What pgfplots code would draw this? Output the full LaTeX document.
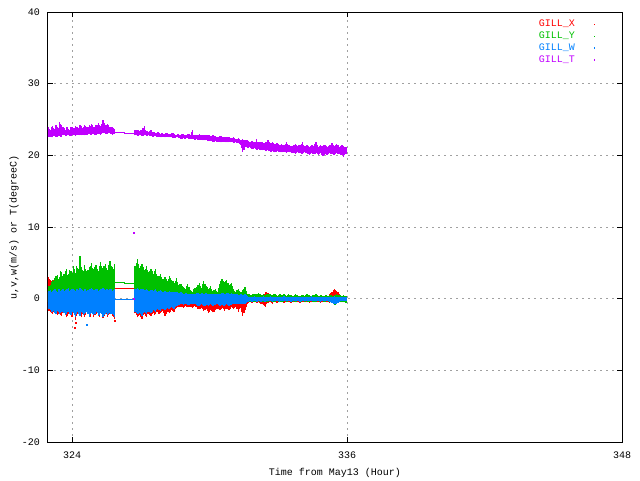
\documentclass[border=0pt]{standalone}
\usepackage{pgfplots}
\pgfplotsset{compat=1.18}
\usepackage{pgfplotstable}
\usepackage{fontspec}
\setmainfont{Liberation Mono}
\definecolor{gx}{HTML}{FF0000}
\definecolor{gy}{HTML}{00C000}
\definecolor{gw}{HTML}{0080FF}
\definecolor{gt}{HTML}{C000FF}
\definecolor{gridc}{HTML}{A0A0A0}
\pgfplotsset{ebar/.style={draw=none, mark=none, forget plot, error bars/.cd, y dir=plus, y explicit,
  error mark=none, error bar style={draw=#1, line width=1.3pt}}}
\pgfplotstableread{
x xlo xhi ylo yhi wlo whi tlo thi
322.95 -1.6 3.0 -0.5 1.4 -1.4 1.0 22.5 23.9
323.05 -1.9 2.6 -0.6 1.9 -1.6 1.2 22.6 23.6
323.15 -2.1 2.2 -0.6 2.6 -1.8 1.1 22.5 24.1
323.25 -1.8 2.9 -0.7 2.9 -2.0 1.3 22.7 23.7
323.35 -2.3 2.4 -0.6 3.3 -1.7 1.0 22.6 24.0
323.45 -2.0 2.6 -0.8 3.0 -2.2 1.4 22.7 24.7
323.55 -2.4 2.8 -0.7 3.7 -1.9 1.2 22.6 24.2
323.65 -1.9 2.5 -0.6 3.4 -2.0 1.1 22.8 23.8
323.75 -2.6 3.2 -0.8 4.2 -2.1 1.3 22.7 24.0
323.85 -2.1 2.7 -0.7 3.5 -1.8 1.5 22.8 23.7
323.95 -2.3 2.9 -0.6 3.9 -2.3 1.2 22.7 23.9
324.05 -2.0 3.1 -0.8 4.5 -2.0 1.4 22.8 23.8
324.15 -3.0 2.6 -0.7 3.6 -2.6 1.1 22.7 24.1
324.25 -2.2 3.0 -0.9 4.3 -1.9 1.3 22.9 23.9
324.35 -2.4 3.4 -0.8 5.9 -2.4 1.5 22.8 24.2
324.45 -2.1 2.8 -0.7 4.0 -2.0 1.2 22.9 23.8
324.55 -2.5 3.7 -0.8 4.7 -2.2 1.4 22.8 24.3
324.65 -1.9 2.9 -0.6 3.8 -1.8 1.1 22.9 24.0
324.75 -2.3 3.3 -0.9 4.4 -2.5 1.3 23.0 24.2
324.85 -2.0 4.4 -0.8 5.0 -2.0 1.5 22.9 24.4
324.95 -2.6 3.0 -0.7 4.1 -2.3 1.2 23.0 23.9
325.05 -2.1 3.6 -0.8 4.7 -1.9 1.4 22.9 24.3
325.15 -2.4 2.9 -0.6 3.9 -2.4 1.1 23.0 24.5
325.25 -2.0 4.2 -0.9 5.1 -2.0 1.3 22.9 24.1
325.35 -2.7 3.2 -0.7 4.3 -2.6 1.5 23.1 24.9
325.45 -2.2 3.9 -0.8 4.8 -2.1 1.2 23.0 24.2
325.55 -2.5 3.0 -0.7 4.0 -2.3 1.4 23.0 24.4
325.65 -2.1 4.3 -0.8 5.3 -2.0 1.3 23.1 24.0
325.75 -2.4 3.4 -0.7 4.4 -2.2 1.1 22.9 23.9
325.85 -2.9 3.8 -0.8 4.9 -2.5 1.4 23.0 23.7
326.75 -2.0 3.5 -0.7 4.6 -1.8 1.3 22.8 23.5
326.85 -2.6 4.4 -0.8 5.5 -2.2 1.5 22.7 23.6
326.95 -2.3 3.2 -0.7 4.3 -2.0 1.2 22.8 23.4
327.05 -2.8 3.8 -0.8 4.9 -2.4 1.4 22.7 23.6
327.15 -2.2 3.0 -0.6 4.0 -1.9 1.2 22.8 24.1
327.25 -2.5 3.4 -0.7 4.5 -2.1 1.3 22.7 23.4
327.35 -2.1 2.7 -0.6 3.7 -1.8 1.1 22.8 23.3
327.45 -2.4 3.0 -0.7 4.1 -2.0 1.2 22.7 23.5
327.55 -2.0 2.5 -0.6 3.5 -1.6 1.1 22.6 23.2
327.65 -2.2 3.2 -0.7 4.2 -1.8 1.3 22.7 23.1
327.75 -1.8 2.2 -0.6 3.1 -1.5 1.0 22.6 23.2
327.85 -2.0 2.5 -0.5 3.4 -1.7 1.2 22.5 23.0
327.95 -1.7 1.9 -0.5 2.7 -1.4 1.0 22.6 23.1
328.05 -2.4 2.1 -0.6 3.0 -1.6 1.1 22.5 23.0
328.15 -1.8 1.7 -0.5 2.4 -1.3 0.9 22.6 23.1
328.25 -2.0 2.3 -0.5 3.2 -1.5 1.1 22.5 23.0
328.35 -1.6 1.8 -0.4 2.6 -1.2 0.9 22.5 23.1
328.45 -1.9 1.5 -0.5 2.2 -1.4 1.0 22.4 23.0
328.55 -1.3 2.0 -0.4 2.9 -1.0 0.9 22.5 22.9
328.65 -1.2 1.3 -0.4 1.9 -0.9 0.8 22.4 23.0
328.75 -1.1 1.4 -0.3 2.1 -0.8 0.9 22.3 22.9
328.85 -1.3 1.1 -0.4 1.6 -0.9 0.7 22.4 23.0
328.95 -1.0 1.0 -0.3 1.4 -0.7 0.8 22.3 22.9
329.05 -1.2 1.4 -0.4 2.0 -0.9 0.7 22.4 23.0
329.15 -1.1 0.9 -0.3 1.2 -0.8 0.7 22.3 22.9
329.25 -1.3 0.8 -0.3 1.0 -0.8 0.6 22.3 23.5
329.35 -1.0 1.1 -0.4 1.5 -0.7 0.7 22.2 22.9
329.45 -1.2 1.0 -0.4 1.6 -0.9 0.8 22.3 22.9
329.55 -1.5 1.5 -0.5 2.2 -1.0 0.7 22.2 23.0
329.65 -1.3 1.0 -0.4 1.5 -0.8 0.8 22.2 22.8
329.75 -1.7 1.7 -0.5 2.4 -1.0 0.7 22.1 22.9
329.85 -1.4 1.2 -0.4 1.8 -0.9 0.8 22.1 22.8
329.95 -2.0 1.0 -0.5 1.4 -1.0 0.6 22.0 22.9
330.05 -1.6 1.1 -0.4 1.7 -0.8 0.7 22.0 22.7
330.15 -1.9 0.8 -0.4 1.1 -1.0 0.6 21.9 22.8
330.25 -1.6 0.9 -0.3 1.3 -0.9 0.7 22.0 22.7
330.35 -1.4 0.8 -0.4 1.0 -0.8 0.6 21.9 22.6
330.45 -1.6 1.4 -0.5 2.0 -1.0 0.7 21.9 22.7
330.55 -1.3 2.0 -0.4 2.8 -0.9 0.8 21.8 22.6
330.65 -1.7 1.6 -0.5 2.3 -1.0 0.7 21.9 22.5
330.75 -1.4 1.9 -0.4 2.6 -0.8 0.8 21.8 22.6
330.85 -1.6 1.3 -0.5 1.9 -1.0 0.7 21.8 22.5
330.95 -1.2 1.5 -0.4 2.2 -0.9 0.8 21.9 22.4
331.05 -1.5 0.9 -0.4 1.3 -0.8 0.6 21.7 22.5
331.15 -1.1 0.7 -0.3 1.0 -0.7 0.6 21.8 22.3
331.25 -1.8 1.0 -0.4 1.4 -0.8 0.5 21.7 22.4
331.35 -1.3 0.6 -0.3 0.9 -0.7 0.6 21.5 22.2
331.45 -2.4 0.8 -0.4 1.2 -0.8 0.5 20.5 22.3
331.55 -1.6 1.1 -0.4 1.6 -0.7 0.6 21.2 22.1
331.65 -0.8 0.5 -0.3 0.7 -0.5 0.4 21.0 22.2
331.75 -0.5 0.4 -0.4 0.6 -0.3 0.3 21.1 21.9
331.85 -0.6 0.3 -0.3 0.5 -0.4 0.3 20.9 22.0
331.95 -0.4 0.5 -0.5 0.7 -0.3 0.4 21.0 21.8
332.05 -0.6 0.4 -0.4 0.6 -0.4 0.3 20.8 22.3
332.15 -0.5 0.6 -0.3 0.8 -0.3 0.3 20.9 21.8
332.25 -0.7 0.4 -0.5 0.5 -0.4 0.3 20.7 21.9
332.35 -0.9 0.5 -0.4 0.6 -0.3 0.4 20.8 21.7
332.45 -1.1 0.9 -0.3 0.5 -0.4 0.3 20.6 21.8
332.55 -0.6 0.8 -0.4 0.7 -0.3 0.3 20.7 22.1
332.65 -0.5 0.4 -0.3 0.6 -0.3 0.4 20.5 21.7
332.75 -0.7 0.5 -0.5 0.5 -0.4 0.3 20.6 21.8
332.85 -0.4 0.3 -0.4 0.6 -0.3 0.3 20.4 21.6
332.95 -0.6 0.4 -0.3 0.4 -0.3 0.3 20.6 21.7
333.05 -0.5 0.5 -0.4 0.7 -0.4 0.3 20.5 21.5
333.15 -0.4 0.3 -0.5 0.5 -0.3 0.3 20.4 21.6
333.25 -0.6 0.4 -0.3 0.6 -0.3 0.4 20.5 21.4
333.35 -0.5 0.3 -0.4 0.4 -0.3 0.3 20.3 21.9
333.45 -0.4 0.5 -0.3 0.6 -0.3 0.3 20.5 21.5
333.55 -0.6 0.3 -0.4 0.5 -0.4 0.3 20.4 21.3
333.65 -0.5 0.4 -0.3 0.4 -0.3 0.3 20.3 21.4
333.75 -0.4 0.3 -0.5 0.6 -0.3 0.3 20.2 21.6
333.85 -0.5 0.4 -0.3 0.5 -0.3 0.3 20.4 21.3
333.95 -0.6 0.3 -0.4 0.4 -0.4 0.3 20.3 21.5
334.05 -0.4 0.5 -0.3 0.5 -0.3 0.3 20.2 21.8
334.15 -0.5 0.3 -0.4 0.4 -0.3 0.3 20.4 21.3
334.25 -0.4 0.4 -0.3 0.6 -0.3 0.3 20.3 21.4
334.35 -0.6 0.3 -0.4 0.5 -0.3 0.3 20.1 21.2
334.45 -0.5 0.4 -0.3 0.4 -0.3 0.4 20.3 21.5
334.55 -0.4 0.3 -0.5 0.5 -0.3 0.3 20.2 21.3
334.65 -0.5 0.4 -0.4 0.6 -0.3 0.3 20.3 21.9
334.75 -0.4 0.3 -0.3 0.4 -0.3 0.3 20.1 21.2
334.85 -0.6 0.4 -0.4 0.5 -0.4 0.3 20.3 21.4
334.95 -0.5 0.3 -0.3 0.4 -0.3 0.3 19.9 21.3
335.05 -0.4 0.4 -0.4 0.5 -0.3 0.3 20.2 21.5
335.15 -0.5 0.3 -0.3 0.4 -0.3 0.3 20.1 21.2
335.25 -0.6 0.6 -0.4 0.5 -0.4 0.3 20.3 21.4
335.35 -0.5 1.0 -0.6 0.4 -0.6 0.3 20.2 21.7
335.45 -0.4 1.3 -0.9 0.5 -0.8 0.4 20.1 21.3
335.55 -0.5 1.1 -0.8 0.6 -0.7 0.3 20.3 21.6
335.65 -0.4 0.6 -0.5 0.5 -0.4 0.3 20.2 21.2
335.75 -0.5 0.4 -0.4 0.4 -0.3 0.3 20.1 21.5
335.85 -0.4 0.5 -0.5 0.5 -0.3 0.3 19.8 21.3
335.95 -0.5 0.3 -0.6 0.4 -0.3 0.3 20.2 21.1
}\data
\pgfplotstableread{
x xlo xhi ylo yhi wlo whi tlo thi
323.00 -1.7 2.8 -0.6 1.7 -1.5 1.1 22.6 23.7
323.10 -2.0 2.4 -0.5 2.3 -1.9 1.0 22.5 23.9
323.20 -1.9 2.6 -0.7 2.5 -1.7 1.2 22.7 23.8
323.30 -2.2 2.7 -0.6 3.1 -2.1 1.1 22.6 24.3
323.40 -2.1 2.3 -0.7 2.8 -1.8 1.3 22.7 23.8
323.50 -2.3 2.9 -0.8 3.9 -2.0 1.1 22.6 24.4
323.60 -2.0 2.6 -0.6 3.1 -1.8 1.3 22.8 23.9
323.70 -2.2 2.9 -0.7 3.8 -2.3 1.2 22.7 23.6
323.80 -2.4 2.5 -0.6 3.3 -1.9 1.3 22.8 23.9
323.90 -2.0 3.0 -0.7 4.0 -2.2 1.1 22.7 23.6
324.00 -2.5 2.7 -0.8 3.6 -1.9 1.3 22.8 24.0
324.10 -2.2 2.8 -0.7 4.1 -2.3 1.2 22.8 23.8
324.20 -2.4 3.3 -0.8 4.6 -2.1 1.4 22.8 24.0
324.30 -2.1 2.9 -0.7 4.1 -2.2 1.2 22.9 23.8
324.40 -2.6 3.1 -0.8 4.4 -1.9 1.3 22.8 24.1
324.50 -2.0 2.9 -0.7 3.9 -2.3 1.1 22.9 23.9
324.60 -2.3 3.2 -0.8 4.2 -2.0 1.3 22.9 24.1
324.70 -2.1 3.0 -0.7 4.0 -2.1 1.2 23.0 23.9
324.80 -2.5 3.6 -0.8 4.6 -2.2 1.4 22.9 24.1
324.90 -2.2 3.3 -0.7 4.3 -2.1 1.3 23.0 24.2
325.00 -2.3 3.4 -0.8 4.4 -2.2 1.2 22.9 24.0
325.10 -2.0 3.2 -0.7 4.2 -2.0 1.3 23.0 24.2
325.20 -2.5 3.5 -0.8 4.5 -2.3 1.2 23.0 24.3
325.30 -2.1 3.4 -0.7 4.6 -2.1 1.4 23.0 24.4
325.40 -2.4 3.6 -0.8 4.5 -2.3 1.3 23.1 24.5
325.50 -2.2 3.3 -0.7 4.3 -2.0 1.3 23.0 24.3
325.60 -2.3 3.7 -0.8 4.7 -2.2 1.2 23.1 24.2
325.70 -2.2 3.5 -0.7 4.6 -2.1 1.3 23.0 23.9
325.80 -2.5 3.2 -0.8 4.2 -2.3 1.2 23.0 23.8
326.80 -2.3 3.9 -0.8 5.0 -2.0 1.4 22.8 23.6
326.90 -2.4 3.6 -0.7 4.8 -2.1 1.3 22.7 23.5
327.00 -2.5 3.4 -0.8 4.5 -2.2 1.3 22.8 23.5
327.10 -2.3 3.5 -0.7 4.4 -2.0 1.3 22.7 23.8
327.20 -2.4 3.1 -0.7 4.2 -2.0 1.2 22.8 23.6
327.30 -2.2 3.0 -0.6 4.0 -1.9 1.2 22.7 23.4
327.40 -2.3 2.8 -0.7 3.8 -1.9 1.1 22.7 23.4
327.50 -2.1 2.7 -0.6 3.8 -1.8 1.2 22.6 23.3
327.60 -2.3 2.8 -0.7 3.9 -1.7 1.2 22.7 23.2
327.70 -1.9 2.6 -0.6 3.5 -1.6 1.1 22.6 23.1
327.80 -2.1 2.3 -0.5 3.2 -1.6 1.1 22.6 23.1
327.90 -1.8 2.2 -0.5 3.0 -1.5 1.1 22.5 23.1
328.00 -2.0 2.0 -0.6 2.8 -1.5 1.0 22.6 23.0
328.10 -2.1 1.9 -0.5 2.7 -1.4 1.0 22.5 23.1
328.20 -1.9 2.1 -0.5 2.8 -1.4 1.0 22.5 23.0
328.30 -1.8 2.0 -0.4 2.9 -1.3 1.0 22.5 23.0
328.40 -1.7 1.7 -0.5 2.4 -1.3 0.9 22.4 23.1
328.50 -1.5 1.8 -0.4 2.5 -1.2 0.9 22.4 22.9
328.60 -1.2 1.6 -0.4 2.3 -1.0 0.9 22.5 23.0
328.70 -1.2 1.4 -0.3 2.0 -0.9 0.8 22.4 22.9
328.80 -1.2 1.2 -0.4 1.8 -0.8 0.8 22.3 23.0
328.90 -1.1 1.1 -0.3 1.5 -0.8 0.7 22.3 22.9
329.00 -1.1 1.2 -0.4 1.7 -0.8 0.8 22.4 22.9
329.10 -1.2 1.1 -0.3 1.6 -0.9 0.7 22.3 23.0
329.20 -1.2 0.9 -0.3 1.1 -0.8 0.6 22.3 23.2
329.30 -1.1 1.0 -0.4 1.3 -0.7 0.7 22.3 22.9
329.40 -1.1 1.0 -0.4 1.5 -0.8 0.7 22.2 22.9
329.50 -1.4 1.3 -0.5 1.9 -1.0 0.8 22.2 22.9
329.60 -1.4 1.2 -0.4 1.8 -0.9 0.7 22.2 22.9
329.70 -1.5 1.4 -0.5 2.0 -0.9 0.8 22.1 22.8
329.80 -1.6 1.4 -0.4 2.1 -1.0 0.7 22.1 22.9
329.90 -1.7 1.1 -0.5 1.6 -0.9 0.7 22.0 22.8
330.00 -1.8 1.0 -0.4 1.5 -0.9 0.7 22.0 22.8
330.10 -1.7 0.9 -0.4 1.4 -0.9 0.6 22.0 22.7
330.20 -1.8 0.9 -0.4 1.2 -0.9 0.6 21.9 22.7
330.30 -1.5 0.8 -0.3 1.1 -0.8 0.7 21.9 22.6
330.40 -1.5 1.1 -0.4 1.5 -0.9 0.6 21.9 22.6
330.50 -1.4 1.7 -0.5 2.4 -0.9 0.7 21.8 22.7
330.60 -1.5 1.8 -0.4 2.5 -1.0 0.8 21.9 22.5
330.70 -1.5 1.7 -0.5 2.4 -0.9 0.7 21.8 22.6
330.80 -1.5 1.6 -0.4 2.2 -0.9 0.8 21.8 22.5
330.90 -1.4 1.4 -0.5 2.0 -0.9 0.7 21.8 22.4
331.00 -1.3 1.2 -0.4 1.7 -0.8 0.7 21.8 22.4
331.10 -1.3 0.8 -0.3 1.1 -0.7 0.6 21.7 22.4
331.20 -1.4 0.9 -0.4 1.2 -0.8 0.6 21.7 22.3
331.30 -1.5 0.8 -0.3 1.1 -0.7 0.5 21.6 22.3
331.40 -1.9 0.7 -0.4 1.0 -0.8 0.6 21.0 22.2
331.50 -2.0 1.0 -0.4 1.4 -0.7 0.5 20.8 22.2
331.60 -1.2 0.8 -0.3 1.1 -0.6 0.5 21.1 22.1
331.70 -0.6 0.4 -0.3 0.6 -0.4 0.3 21.0 22.0
331.80 -0.5 0.4 -0.4 0.5 -0.3 0.3 21.0 21.9
331.90 -0.5 0.4 -0.4 0.6 -0.3 0.3 20.9 21.9
332.00 -0.5 0.4 -0.4 0.6 -0.3 0.3 20.9 21.9
332.10 -0.6 0.5 -0.3 0.7 -0.4 0.3 20.8 21.9
332.20 -0.6 0.5 -0.4 0.6 -0.3 0.3 20.8 21.8
332.30 -0.8 0.4 -0.4 0.5 -0.3 0.3 20.7 21.8
332.40 -1.0 0.7 -0.3 0.5 -0.4 0.3 20.7 21.7
332.50 -0.8 0.9 -0.4 0.6 -0.3 0.3 20.6 21.9
332.60 -0.5 0.6 -0.3 0.7 -0.3 0.3 20.6 21.8
332.70 -0.6 0.4 -0.4 0.5 -0.3 0.3 20.5 21.7
332.80 -0.5 0.4 -0.4 0.6 -0.3 0.3 20.5 21.7
332.90 -0.5 0.3 -0.3 0.5 -0.3 0.3 20.5 21.6
333.00 -0.5 0.4 -0.4 0.5 -0.3 0.3 20.5 21.6
333.10 -0.4 0.4 -0.4 0.6 -0.3 0.3 20.4 21.5
333.20 -0.5 0.3 -0.4 0.5 -0.3 0.3 20.4 21.5
333.30 -0.5 0.4 -0.3 0.5 -0.3 0.3 20.4 21.6
333.40 -0.4 0.4 -0.4 0.5 -0.3 0.3 20.4 21.6
333.50 -0.5 0.4 -0.3 0.5 -0.3 0.3 20.4 21.4
333.60 -0.5 0.3 -0.4 0.4 -0.3 0.3 20.3 21.3
333.70 -0.4 0.3 -0.4 0.5 -0.3 0.3 20.3 21.5
333.80 -0.5 0.4 -0.4 0.5 -0.3 0.3 20.3 21.4
333.90 -0.5 0.3 -0.3 0.4 -0.3 0.3 20.3 21.4
334.00 -0.5 0.4 -0.4 0.5 -0.3 0.3 20.2 21.6
334.10 -0.4 0.4 -0.3 0.5 -0.3 0.3 20.3 21.5
334.20 -0.5 0.3 -0.4 0.5 -0.3 0.3 20.3 21.3
334.30 -0.5 0.3 -0.4 0.5 -0.3 0.3 20.2 21.3
334.40 -0.5 0.4 -0.3 0.4 -0.3 0.3 20.2 21.3
334.50 -0.4 0.3 -0.4 0.5 -0.3 0.3 20.2 21.4
334.60 -0.5 0.3 -0.4 0.5 -0.3 0.3 20.2 21.6
334.70 -0.4 0.3 -0.3 0.5 -0.3 0.3 20.2 21.5
334.80 -0.5 0.4 -0.4 0.4 -0.3 0.3 20.2 21.3
334.90 -0.5 0.3 -0.3 0.5 -0.3 0.3 20.1 21.3
335.00 -0.4 0.3 -0.4 0.4 -0.3 0.3 20.1 21.4
335.10 -0.5 0.4 -0.3 0.5 -0.3 0.3 20.1 21.3
335.20 -0.5 0.4 -0.4 0.4 -0.3 0.3 20.2 21.3
335.30 -0.5 0.8 -0.5 0.5 -0.5 0.3 20.2 21.5
335.40 -0.5 1.2 -0.8 0.4 -0.7 0.3 20.1 21.5
335.50 -0.4 1.2 -0.9 0.5 -0.8 0.3 20.2 21.4
335.60 -0.5 0.9 -0.6 0.5 -0.6 0.3 20.2 21.4
335.70 -0.4 0.5 -0.5 0.5 -0.3 0.3 20.1 21.3
335.80 -0.5 0.4 -0.4 0.4 -0.3 0.3 20.0 21.4
335.90 -0.4 0.4 -0.5 0.4 -0.3 0.3 20.0 21.2
}\datamid

\begin{document}
\begin{tikzpicture}
\begin{axis}[
  scale only axis, width=574pt, height=430pt,
  xmin=322.95, xmax=348, ymin=-20, ymax=40,
  xtick={324,336,348}, xticklabels={324,336,348},
  ytick={-20,-10,0,10,20,30,40}, yticklabels={-20,-10,0,10,20,30,40},
  tick align=inside, major tick length=5pt,
  every tick/.style={black, line width=0.8pt},
  grid=major, grid style={gridc, dash pattern=on 2pt off 4pt, line width=0.8pt},
  axis line style={line width=1pt},
  font=\fontsize{10}{12}\selectfont,
  xticklabel style={anchor=center, inner sep=0pt, yshift=-13pt},
  yticklabel style={anchor=east, inner sep=0pt, xshift=-8pt},
  xlabel={Time from May13 (Hour)},
  ylabel={u,v,w(m/s) or T(degreeC)},
  every axis x label/.style={at={(axis description cs:0.5,-0.072)}, anchor=center},
  every axis y label/.style={at={(axis description cs:-0.059,0.5)}, anchor=center, rotate=90},
  legend style={draw=none, fill=none, at={(axis description cs:1,1)}, anchor=north east,
    xshift=-20pt, yshift=-4pt, row sep=-0.3pt, font=\fontsize{10}{12}\selectfont},
  legend cell align=right, legend plot pos=right,
]
% X (u)
\addplot[ebar=gx] table[x=x, y=xlo, y error plus expr=\thisrow{xhi}-\thisrow{xlo}] {\data};
\addplot[ebar=gx] table[x=x, y=xlo, y error plus expr=\thisrow{xhi}-\thisrow{xlo}] {\datamid};
\addplot[gx, line width=1pt, forget plot] coordinates {(325.85,1.4) (326.75,1.4)};
\addplot[gx, only marks, mark=square*, mark size=0.5pt, forget plot] coordinates {(324.1,-4.0) (324.15,-3.3) (325.85,-3.1)};
% Y (v)
\addplot[ebar=gy] table[x=x, y=ylo, y error plus expr=\thisrow{yhi}-\thisrow{ylo}] {\data};
\addplot[ebar=gy] table[x=x, y=ylo, y error plus expr=\thisrow{yhi}-\thisrow{ylo}] {\datamid};
\addplot[gy, line width=1pt, forget plot] coordinates {(325.85,2.25) (326.3,2.25) (326.3,2.1) (326.75,2.1)};
% W
\addplot[ebar=gw] table[x=x, y=wlo, y error plus expr=\thisrow{whi}-\thisrow{wlo}] {\data};
\addplot[ebar=gw] table[x=x, y=wlo, y error plus expr=\thisrow{whi}-\thisrow{wlo}] {\datamid};
\addplot[gw, line width=1pt, forget plot] coordinates {(325.85,-0.15) (326.75,-0.15)};
\addplot[gw, only marks, mark=square*, mark size=0.5pt, forget plot] coordinates {(324.65,-3.6)};
% T
\addplot[ebar=gt] table[x=x, y=tlo, y error plus expr=\thisrow{thi}-\thisrow{tlo}] {\data};
\addplot[ebar=gt] table[x=x, y=tlo, y error plus expr=\thisrow{thi}-\thisrow{tlo}] {\datamid};
\addplot[gt, line width=1pt, forget plot] coordinates {(325.85,23.2) (326.3,23.2) (326.3,23.0) (326.75,23.0)};
\addplot[gt, only marks, mark=square*, mark size=0.5pt, forget plot] coordinates {(326.71,9.2) (326.7,0.0)};
% legend
\addlegendimage{legend image code/.code={\path[draw=none, fill=none] (0pt,-1pt) rectangle (22pt,1pt); \fill[gx, draw=none] (17pt,-0.6pt) rectangle (18.2pt,0.6pt);}}
\addlegendentry{\textcolor{gx}{GILL\_X}}
\addlegendimage{legend image code/.code={\path[draw=none, fill=none] (0pt,-1pt) rectangle (22pt,1pt); \fill[gy, draw=none] (17pt,-0.6pt) rectangle (18.2pt,0.6pt);}}
\addlegendentry{\textcolor{gy}{GILL\_Y}}
\addlegendimage{legend image code/.code={\path[draw=none, fill=none] (0pt,-1pt) rectangle (22pt,1pt); \fill[gw, draw=none] (17pt,-0.6pt) rectangle (18.2pt,0.6pt);}}
\addlegendentry{\textcolor{gw}{GILL\_W}}
\addlegendimage{legend image code/.code={\path[draw=none, fill=none] (0pt,-1pt) rectangle (22pt,1pt); \fill[gt, draw=none] (17pt,-0.6pt) rectangle (18.2pt,0.6pt);}}
\addlegendentry{\textcolor{gt}{GILL\_T}}
\end{axis}
\pgfresetboundingbox
\path (-48pt,-38pt) rectangle (592pt,442pt);
\end{tikzpicture}
\end{document}
